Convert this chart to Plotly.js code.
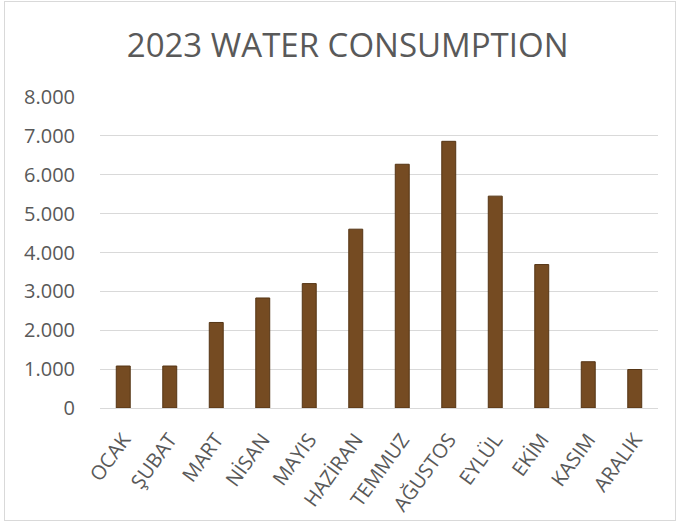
<!DOCTYPE html>
<html>
<head>
<meta charset="utf-8">
<script src="https://cdn.plot.ly/plotly-3.0.1.min.js"></script>
<style>
  html, body { margin: 0; padding: 0; background: #ffffff; }
  #wrap { position: relative; width: 679px; height: 529px; }
  #frame { position: absolute; left: 4px; top: 1px; width: 670px; height: 518px;
           border: 1px solid #d9d9d9; pointer-events: none; }
  #chart { position: absolute; left: 0; top: 0; width: 679px; height: 529px; }
</style>
</head>
<body>
<div id="wrap">
  <div id="chart"></div>
  <div id="frame"></div>
</div>
<script>
// Monthly water consumption for 2023
const months = ["OCAK", "ŞUBAT", "MART", "NİSAN", "MAYIS", "HAZİRAN",
                "TEMMUZ", "AĞUSTOS", "EYLÜL", "EKİM", "KASIM", "ARALIK"];
const consumption = [1080, 1080, 2200, 2830, 3200, 4600,
                     6270, 6860, 5450, 3690, 1190, 990];
const yTicks = [0, 1000, 2000, 3000, 4000, 5000, 6000, 7000, 8000];

const textColor = "#595959";
const gridColor = "#d9d9d9";

const trace = {
  type: "bar",
  x: months,
  y: consumption,
  marker: { color: "#754b22", line: { color: "#553515", width: 1 } },
  hoverinfo: "x+y"
};

const layout = {
  width: 679,
  height: 529,
  margin: { l: 100, r: 21, t: 97, b: 121 },
  paper_bgcolor: "#ffffff",
  plot_bgcolor: "#ffffff",
  separators: ",.",
  font: { family: "Open Sans, sans-serif", color: textColor },
  showlegend: false,
  bargap: 0.7,
  title: {
    text: "2023 WATER CONSUMPTION",
    font: { size: 33, color: textColor, family: "Open Sans, sans-serif" },
    xref: "container", x: 0.512, xanchor: "center",
    yref: "container", y: 0.914, yanchor: "middle"
  },
  xaxis: {
    type: "category",
    tickangle: -54,
    tickfont: { size: 20, color: textColor },
    showgrid: false,
    showline: true,
    linecolor: gridColor,
    linewidth: 1,
    ticks: "outside",
    ticklen: 11,
    tickcolor: "rgba(0,0,0,0)",
    fixedrange: true
  },
  yaxis: {
    range: [0, 8000],
    tickvals: yTicks,
    tickformat: ",d",
    tickfont: { size: 20, color: textColor },
    showgrid: true,
    gridcolor: gridColor,
    gridwidth: 1,
    zeroline: false,
    showline: false,
    ticks: "outside",
    ticklen: 20,
    tickcolor: "rgba(0,0,0,0)",
    fixedrange: true
  }
};

Plotly.newPlot("chart", [trace], layout, { displayModeBar: false, staticPlot: true });
</script>
</body>
</html>
